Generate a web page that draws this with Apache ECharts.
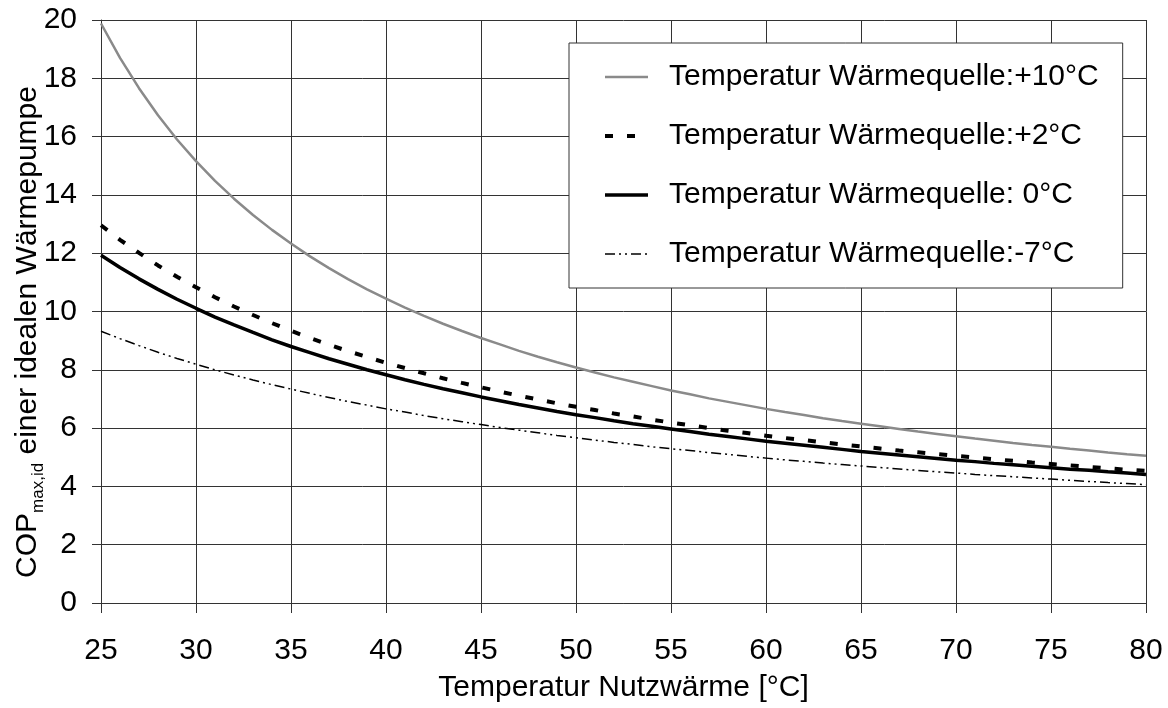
<!DOCTYPE html>
<html>
<head>
<meta charset="utf-8">
<script src="https://cdn.jsdelivr.net/npm/echarts@6/dist/echarts.min.js"></script>
<style>
html,body{margin:0;padding:0;background:#fff;}
#chart{width:1168px;height:708px;}
</style>
</head>
<body>
<div id="chart"></div>
<script>
// Temperatur Nutzwärme [°C]
const temps = [25,26,27,28,29,30,31,32,33,34,35,36,37,38,39,40,41,42,43,44,45,46,47,48,49,50,51,52,53,54,55,56,57,58,59,60,61,62,63,64,65,66,67,68,69,70,71,72,73,74,75,76,77,78,79,80];

const seriesNames = [
  'Temperatur Wärmequelle:+10°C',
  'Temperatur Wärmequelle:+2°C',
  'Temperatur Wärmequelle: 0°C',
  'Temperatur Wärmequelle:-7°C'
];

const copPlus10 = [19.88,18.70,17.66,16.73,15.90,15.16,14.48,13.87,13.31,12.80,12.33,11.89,11.49,11.11,10.76,10.44,10.13,9.85,9.58,9.33,9.09,8.87,8.65,8.45,8.26,8.08,7.91,7.74,7.59,7.44,7.29,7.16,7.02,6.90,6.78,6.66,6.55,6.45,6.34,6.24,6.15,6.06,5.97,5.88,5.80,5.72,5.64,5.57,5.49,5.42,5.36,5.29,5.23,5.16,5.10,5.05];

const copPlus2 = [12.96,12.46,12.01,11.58,11.19,10.83,10.49,10.17,9.88,9.60,9.34,9.09,8.86,8.64,8.44,8.24,8.06,7.88,7.71,7.55,7.40,7.25,7.11,6.98,6.85,6.73,6.62,6.50,6.40,6.29,6.19,6.10,6.00,5.91,5.83,5.74,5.66,5.59,5.51,5.44,5.37,5.30,5.23,5.17,5.11,5.05,4.99,4.93,4.88,4.82,4.77,4.72,4.67,4.62,4.57,4.53];

const copZero = [11.93,11.51,11.12,10.76,10.42,10.11,9.81,9.54,9.28,9.03,8.80,8.59,8.38,8.19,8.00,7.83,7.66,7.50,7.35,7.21,7.07,6.94,6.81,6.69,6.57,6.46,6.36,6.25,6.15,6.06,5.97,5.88,5.79,5.71,5.63,5.55,5.48,5.41,5.34,5.27,5.20,5.14,5.08,5.02,4.96,4.90,4.85,4.79,4.74,4.69,4.64,4.59,4.55,4.50,4.46,4.41];

const copMinus7 = [9.32,9.07,8.83,8.60,8.39,8.19,8.00,7.82,7.65,7.49,7.34,7.19,7.05,6.91,6.79,6.66,6.55,6.43,6.32,6.22,6.12,6.02,5.93,5.84,5.75,5.67,5.59,5.51,5.44,5.36,5.29,5.23,5.16,5.10,5.03,4.97,4.91,4.86,4.80,4.75,4.70,4.65,4.60,4.55,4.50,4.46,4.41,4.37,4.33,4.29,4.25,4.21,4.17,4.13,4.10,4.06];

const xTicks = [25,30,35,40,45,50,55,60,65,70,75,80];
const yTicks = [0,2,4,6,8,10,12,14,16,18,20];

const FONT = '"Liberation Sans", Arial, sans-serif';
const FS = 30;
const pair = (vals) => temps.map((t, i) => [t, vals[i]]);

const lineStyles = [
  {color: '#8a8a8a', width: 2.5, type: 'solid'},
  {color: '#000', width: 4, type: [8, 14]},
  {color: '#000', width: 3.5, type: 'solid'},
  {color: '#000', width: 1.5, type: [10, 4, 2, 4, 2, 4]}
];

const chart = echarts.init(document.getElementById('chart'), null, {renderer: 'canvas'});
chart.setOption({
  animation: false,
  backgroundColor: '#ffffff',
  textStyle: {fontFamily: FONT, color: '#000'},
  grid: {left: 101, right: 22, top: 20, bottom: 104, containLabel: false},
  xAxis: {
    type: 'value',
    min: xTicks[0], max: xTicks[xTicks.length - 1], interval: 5,
    name: 'Temperatur Nutzwärme [°C]',
    nameLocation: 'middle', nameGap: 70,
    nameTextStyle: {fontFamily: FONT, fontSize: FS, color: '#000'},
    axisLine: {show: true, lineStyle: {color: '#333', width: 1}},
    axisTick: {show: true, inside: false, length: 10, lineStyle: {color: '#333', width: 1}},
    axisLabel: {fontFamily: FONT, fontSize: FS, color: '#000', margin: 33},
    splitLine: {show: true, lineStyle: {color: '#333', width: 1}}
  },
  yAxis: {
    type: 'value',
    min: yTicks[0], max: yTicks[yTicks.length - 1], interval: 2,
    axisLine: {show: true, lineStyle: {color: '#333', width: 1}},
    axisTick: {show: true, inside: false, length: 9, lineStyle: {color: '#333', width: 1}},
    axisLabel: {fontFamily: FONT, fontSize: FS, color: '#000', margin: 24},
    splitLine: {show: true, lineStyle: {color: '#333', width: 1}}
  },
  legend: {
    show: true,
    orient: 'vertical',
    left: 569, top: 43,
    padding: [19, 24, 19, 34],
    itemGap: 29,
    itemWidth: 43, itemHeight: 14,
    backgroundColor: '#fff',
    borderColor: '#333', borderWidth: 1, borderRadius: 0,
    itemStyle: {opacity: 0},
    textStyle: {fontFamily: FONT, fontSize: FS, color: '#000', lineHeight: 30, padding: [0, 0, 0, 16]},
    data: seriesNames.map((n, i) => ({name: n, lineStyle: lineStyles[i]}))
  },
  series: seriesNames.map((n, i) => ({
    name: n, type: 'line',
    data: pair([copPlus10, copPlus2, copZero, copMinus7][i]),
    showSymbol: false, symbol: 'none',
    lineStyle: lineStyles[i],
    itemStyle: {color: lineStyles[i].color},
    z: 2 + i
  })),
  graphic: [{
    type: 'text',
    x: 27, y: 332,
    rotation: Math.PI / 2,
    style: {
      text: '{m|COP}{s|max,id}{m| einer idealen Wärmepumpe}',
      align: 'center', verticalAlign: 'middle',
      fill: '#000',
      rich: {
        m: {fontFamily: FONT, fontSize: FS, fill: '#000', lineHeight: 32, verticalAlign: 'bottom'},
        s: {fontFamily: FONT, fontSize: 17, fill: '#000', lineHeight: 32, verticalAlign: 'bottom', padding: [0, 0, -4, 0]}
      }
    }
  }]
});
</script>
</body>
</html>
